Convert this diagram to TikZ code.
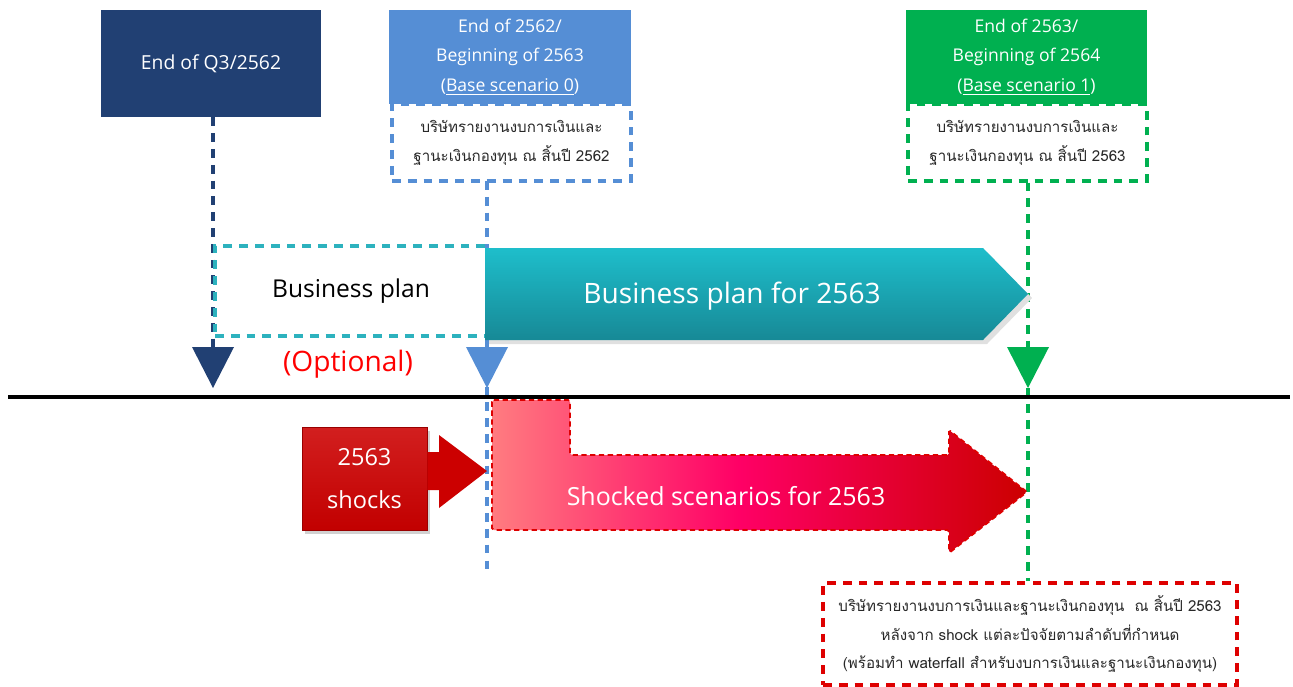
\documentclass[tikz,border=0pt]{standalone}
\usepackage{fontspec}
\setmainfont{Open Sans}
\newfontfamily\thaifont[Script=Thai]{Loma}
\usetikzlibrary{positioning}
\definecolor{navyblue}{RGB}{33,64,115}
\definecolor{baseblue}{RGB}{85,142,213}
\definecolor{basegreen}{RGB}{0,176,80}
\definecolor{planteal}{RGB}{45,178,190}
\definecolor{tealtop}{RGB}{30,190,203}
\definecolor{tealbot}{RGB}{23,137,150}
\definecolor{shockred}{RGB}{204,0,0}
\definecolor{shockpink}{RGB}{255,124,128}
\definecolor{shockmid}{RGB}{255,0,102}
\definecolor{shockdark}{RGB}{204,0,0}
\definecolor{notered}{RGB}{222,0,0}
\definecolor{notetext}{RGB}{40,40,40}
\pgfdeclarehorizontalshading{shockfade}{100bp}{color(0bp)=(shockpink); color(25bp)=(shockpink); color(48bp)=(shockmid); color(75bp)=(shockdark); color(100bp)=(shockdark)}
\begin{document}
\begin{tikzpicture}[x=0.02cm, y=-0.02cm,
	datebox/.style={text=white, align=center, inner sep=0pt, font=\fontsize{10}{17}\selectfont},
	notebox/.style={line width=1.8pt, dash pattern=on 5pt off 4pt, fill=white, align=center, inner sep=0pt, text=notetext, font=\thaifont\fontsize{8.6}{16.5}\selectfont},
	guide/.style={line width=1.8pt, dash pattern=on 5pt off 4pt},
	marker/.style={draw=none, line join=round}]
	\useasboundingbox (0,0) rectangle (1293,686);
	\node[datebox, fill=navyblue, minimum width=4.4cm, minimum height=2.14cm, font=\fontsize{11}{17}\selectfont] (q3) at (211,63.5) {End of Q3/2562};
	\node[datebox, fill=baseblue, minimum width=4.84cm, minimum height=1.88cm] (base0) at (510,57) {End of 2562/\\Beginning of 2563\\(\underline{Base scenario 0})};
	\node[datebox, fill=basegreen, minimum width=4.82cm, minimum height=1.88cm] (base1) at (1026.5,57) {End of 2563/\\Beginning of 2564\\(\underline{Base scenario 1})};
	\coordinate (tip0) at (487,388);
	\coordinate (tip1) at (1028,388);
	\coordinate (tipq) at (213,388);
	\draw[guide, baseblue] (tip0 |- 0,181) -- (487,575);
	\draw[guide, navyblue] (tipq |- q3.south) -- (213,347);
	\node[notebox, draw=baseblue, minimum width=4.78cm, minimum height=1.54cm] (note0) at (511.5,142.5) {บริษัทรายงานงบการเงินและ\\ฐานะเงินกองทุน ณ สิ้นปี 2562};
	\node[notebox, draw=basegreen, minimum width=4.78cm, minimum height=1.54cm] (note1) at (1027.5,142.5) {บริษัทรายงานงบการเงินและ\\ฐานะเงินกองทุน ณ สิ้นปี 2563};
	\node[notebox, draw=notered, minimum width=8.28cm, minimum height=2.04cm, font=\thaifont\fontsize{8.6}{16}\selectfont] (note2) at (1030,634) {บริษัทรายงานงบการเงินและฐานะเงินกองทุน \ ณ สิ้นปี 2563\\หลังจาก shock แต่ละปัจจัยตามลำดับที่กำหนด\\(พร้อมทำ waterfall สำหรับงบการเงินและฐานะเงินกองทุน)};
	\draw[guide, basegreen] (tip1 |- note1.south) -- (tip1 |- note2.north);
	\node[draw=planteal, line width=1.8pt, dash pattern=on 5pt off 4pt, minimum width=5.44cm, minimum height=1.8cm, font=\fontsize{14}{17}\selectfont] (bplan) at (351,291) {Business plan};
	\node[text=red, font=\fontsize{16}{18}\selectfont] (optional) at (348,364) {(Optional)};
	\fill[black!12] (489,252) -- (987,252) -- (1032,298) -- (987,344) -- (489,344) -- cycle;
	\path[top color=tealtop, bottom color=tealbot] (485,248) -- (983,248) -- (1028,294) -- (983,340) -- (485,340) -- cycle;
	\node[text=white, font=\fontsize{16}{19}\selectfont] (bp2563) at (732,296) {Business plan for 2563};
	\fill[marker, navyblue] (192,347) -- (234,347) -- (tipq) -- cycle;
	\fill[marker, baseblue] (466,347) -- (508,347) -- (tip0) -- cycle;
	\fill[marker, basegreen] (1007,347) -- (1049,347) -- (tip1) -- cycle;
	\draw[line width=2pt] (8,397) -- (1290,397);
	\fill[black!18] (305,431) rectangle (430,534);
	\node[top color=shockred!88!white, bottom color=shockred!95!black, draw=shockred!75!black, line width=0.4pt, minimum width=2.5cm, minimum height=2.06cm, text=white, align=center, font=\fontsize{13.4}{24}\selectfont] (shock) at (364.5,478.5) {2563\\shocks};
	\fill[shockred] (shock.east |- 0,452) -- (439,452) -- (439,435) -- (487,471) -- (439,508) -- (439,490) -- (shock.east |- 0,490) -- cycle;
	\draw[notered, line width=1pt, dash pattern=on 3pt off 2pt, shading=shockfade, rounded corners=1pt] (492,400) -- (570,400) -- (570,455) -- (949,455) -- (949,430) -- (1027,492) -- (949,553) -- (949,530) -- (492,530) -- cycle;
	\node[text=white, font=\fontsize{14.2}{17}\selectfont] (shocked) at (726,496) {Shocked scenarios for 2563};
\end{tikzpicture}
\end{document}
